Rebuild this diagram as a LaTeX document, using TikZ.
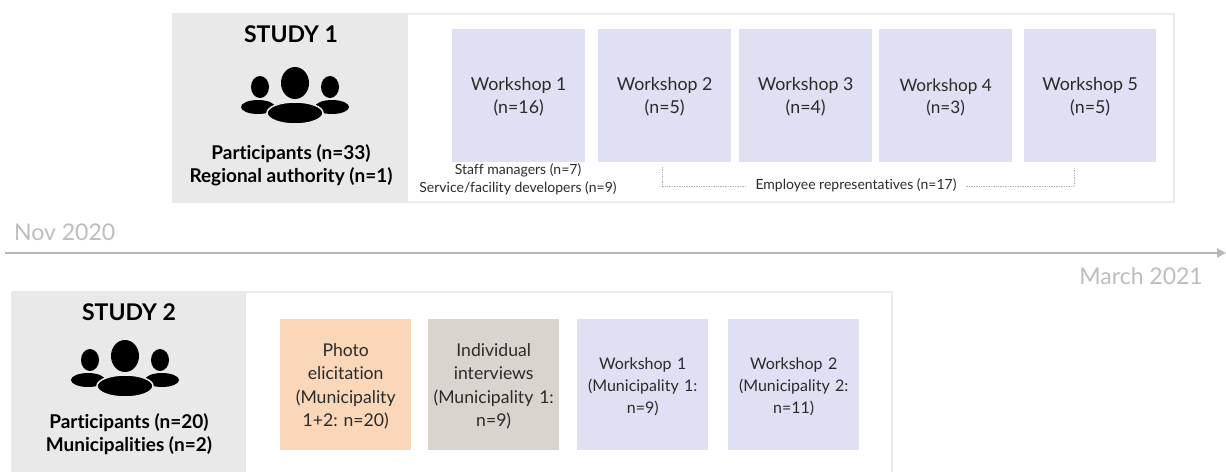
\documentclass[tikz,border=0pt]{standalone}
\usepackage{fontspec}
\setmainfont{Lato}[Ligatures=NoCommon]
\frenchspacing
\usetikzlibrary{arrows.meta}
\definecolor{panel}{HTML}{E9E9E9}
\definecolor{edge}{HTML}{EBEBEB}
\definecolor{lav}{HTML}{E0E0F4}
\definecolor{peach}{HTML}{FAD7B8}
\definecolor{taupe}{HTML}{D9D5CE}
\definecolor{axisc}{HTML}{B8B8B8}
\definecolor{timec}{HTML}{BDBDBD}
\definecolor{txt}{HTML}{2B2B2B}
\definecolor{dotc}{HTML}{B5B5B5}
\newcommand{\fs}[1]{\fontsize{#1}{#1}\selectfont}
\newcommand{\topgap}{\rule{0pt}{16pt}}
\tikzset{
  x=1pt,y=-1pt,
  wk/.style={minimum width=133,minimum height=133,inner sep=0pt,anchor=north west,
    align=center,text=txt,font=\fs{17.8},fill=lav},
  wkb/.style={minimum width=131,minimum height=131,inner sep=0pt,anchor=north west,
    align=center,text=txt,font=\fs{17.6},text width=128},
  head/.style={inner sep=0pt,align=center,text=black,font=\fs{23}\bfseries},
  sub/.style={inner sep=0pt,align=center,text=black,font=\fs{19}\bfseries},
  small/.style={inner sep=0pt,align=center,text=txt,font=\fs{14}},
  time/.style={inner sep=0pt,text=timec,font=\fs{23}},
  bracket/.style={draw=dotc,line width=0.7pt,densely dotted},
  people/.pic={
    \fill[black] (-35,4) ellipse [x radius=9,y radius=11];
    \fill[black] (35,4) ellipse [x radius=9,y radius=11];
    \fill[black] (0,0) ellipse [x radius=14,y radius=16];
    \fill[black] (-37,24) ellipse [x radius=17,y radius=7];
    \fill[black] (37,24) ellipse [x radius=17,y radius=7];
    \filldraw[black,draw=panel,line width=1.5pt] (0,30) ellipse [x radius=28,y radius=11];
  }
}
\begin{document}
\begin{tikzpicture}
\useasboundingbox (0,0) rectangle (1226,472);
% Study 1
\draw[edge,line width=2pt] (173,14) rectangle (1174,202);
\fill[panel] (172,13) rectangle (408,203);
\node[head] (s1) at (291,34) {STUDY 1};
\pic at (295,83) {people};
\node[sub] (s1a) at (291,154) {Participants (n=33)};
\node[sub] (s1b) at (291,177) {Regional authority (n=1)};
\node[wk] (w1) at (452,29) {\topgap Workshop 1\\[5pt](n=16)};
\node[wk] (w2) at (598,29) {\topgap Workshop 2\\[5pt](n=5)};
\node[wk] (w3) at (739,29) {\topgap Workshop 3\\[5pt](n=4)};
\node[wk,font=\fs{17.2}] (w4) at (879,29) {\topgap Workshop 4\\[5pt](n=3)};
\node[wk,minimum width=132] (w5) at (1024,29) {\topgap Workshop 5\\[5pt](n=5)};
\node[small] (m1) at (518,170) {Staff managers (n=7)};
\node[small] (m2) at (518,188) {Service/facility developers (n=9)};
\node[small,outer xsep=9pt] (er) at (856,185) {Employee representatives (n=17)};
\coordinate (bl) at (662,167);
\coordinate (br) at (1074,168);
\draw[bracket] (bl) |- ([yshift=-1pt]er.west);
\draw[bracket] (br) |- ([yshift=-1pt]er.east);
% Axis
\coordinate (a0) at (5,253);
\coordinate (a1) at (1226,253);
\draw[axisc,line width=2pt,-{Triangle[length=9pt,width=9pt]}] (a0) -- (a1);
\node[time,anchor=west] (nov) at (14,232) {Nov 2020};
\node[time,anchor=east] (mar) at (1203,276) {March 2021};
% Study 2
\draw[edge,line width=2pt] (12,292) -- (892,292) -- (892,472);
\fill[panel] (11,291) rectangle (246,472);
\node[head] (s2) at (129,312) {STUDY 2};
\pic at (125,356) {people};
\node[sub] (s2a) at (129,422.5) {Participants (n=20)};
\node[sub] (s2b) at (129,445.5) {Municipalities (n=2)};
\node[wkb,fill=peach] (p1) at (280,319) {\topgap Photo\\[6pt]elicitation\\[6pt](Municipality\\[6pt]1+2: n=20)};
\node[wkb,fill=taupe] (p2) at (428,319) {\topgap Individual\\[6pt]interviews\\[6pt](Municipality 1:\\[6pt]n=9)};
\node[wkb,fill=lav,font=\fs{16}] (p3) at (577,319) {\topgap Workshop 1\\[6pt](Municipality 1:\\[6pt]n=9)};
\node[wkb,fill=lav,font=\fs{16}] (p4) at (728,319) {\topgap Workshop 2\\[6pt](Municipality 2:\\[6pt]n=11)};
\end{tikzpicture}
\end{document}
